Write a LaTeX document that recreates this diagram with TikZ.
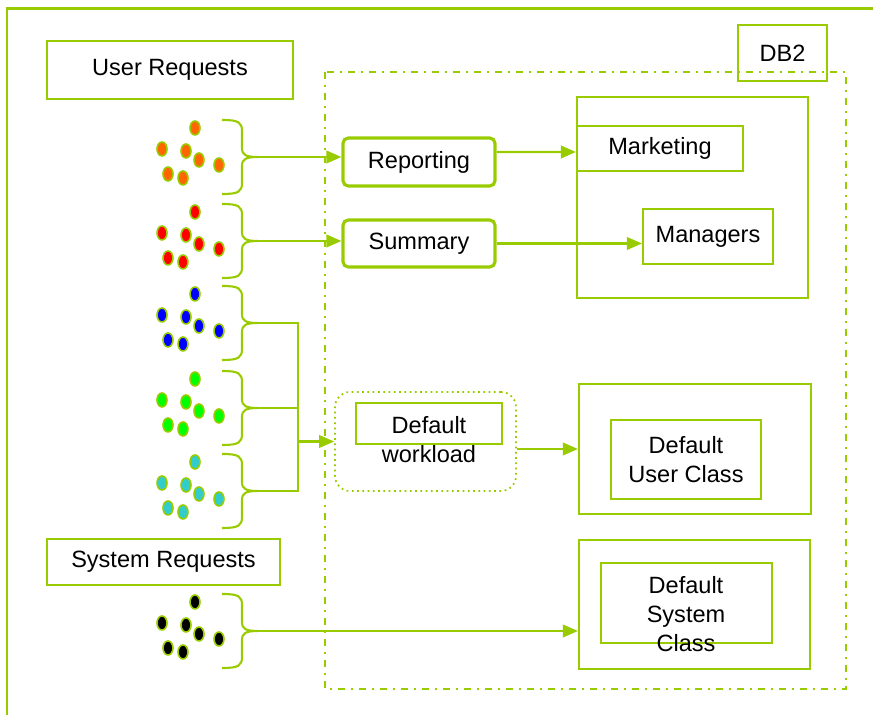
\documentclass[tikz,border=0pt]{standalone}
\usepackage{fontspec}
\setmainfont{Liberation Sans}
\usetikzlibrary{arrows.meta,positioning}

\definecolor{lime}{RGB}{153,204,0}
\definecolor{dotorange}{RGB}{255,102,0}
\definecolor{dotgreen}{RGB}{0,255,0}
\definecolor{dotcyan}{RGB}{51,204,204}

\tikzset{
  box/.style={draw=lime, line width=1.2pt, inner sep=0pt},
  rbox/.style={box, line width=1.8pt, rounded corners=3pt},
  link/.style={draw=lime, line width=1.2pt},
  tolink/.style={link, -{Triangle[length=0.3cm,width=0.25cm]}},
  brace/.style={draw=lime, line width=1.2pt},
  dot/.style={draw=lime, line width=0.9pt},
  lbl/.style={align=center, inner sep=0pt}
}

\begin{document}
\begin{tikzpicture}[x=0.02cm, y=-0.02cm, font=\fontsize{13.4}{16.5}\selectfont]

\useasboundingbox (0,0) rectangle (873,715);

% outer frame
\draw[lime, line width=1.7pt] (7,740) -- (7,9) -- (900,9);

% db2 frame
\draw[lime, line width=1.1pt, dash pattern=on 0.14cm off 0.12cm on 0.04cm off 0.12cm] (325,72) rectangle (846,689);
\node[box, minimum width=1.78cm, minimum height=1.12cm] (db2) at (782.5,53) {DB2};

% request boxes
\node[box, minimum width=4.92cm, minimum height=1.16cm] (usr) at (170,70) {User Requests};
\node[box, minimum width=4.66cm, minimum height=0.92cm] (sys) at (163.5,562) {System Requests};

% workloads
\node[rbox, minimum width=3.04cm, minimum height=0.96cm] (rep) at (419,162) {Reporting};
\node[rbox, minimum width=3.04cm, minimum height=0.94cm] (sum) at (419,243.5) {Summary};
\node[draw=lime, line width=1pt, dotted, rounded corners=0.3cm, minimum width=3.62cm, minimum height=1.98cm] (wl) at (425.5,441.5) {};
\node[box, minimum width=2.92cm, minimum height=0.82cm] (wlin) at (429,423.5) {};
\node[lbl] (wltxt) at (429,440) {Default\\workload};

% service classes
\node[box, minimum width=4.62cm, minimum height=4.02cm] (mktout) at (692.5,197.5) {};
\node[box, minimum width=3.32cm, minimum height=0.9cm] (mkt) at (660,148.5) {Marketing};
\node[box, minimum width=2.6cm, minimum height=1.1cm] (mgr) at (708,236.5) {Managers};

\node[box, minimum width=4.64cm, minimum height=2.6cm] (ucout) at (695,449) {};
\node[box, minimum width=3cm, minimum height=1.58cm, lbl] (uc) at (686,459.5) {Default\\User Class};

\node[box, minimum width=4.62cm, minimum height=2.58cm] (scout) at (694.5,604.5) {};
\node[box, minimum width=3.42cm, minimum height=1.6cm] (sc) at (686.5,603) {};
\node[lbl] (sctxt) at (686,614.5) {Default\\System\\Class};

% request groups
\foreach \i/\ty/\dotcol in {1/157/dotorange, 2/241/red, 3/323/blue, 4/408/dotgreen, 5/491/dotcyan, 6/631/black} {
  \coordinate (tip\i) at (258,\ty);
  \draw[brace] (222,\ty-37) .. controls (238,\ty-37) and (242,\ty-35) .. (242,\ty-26) -- (242,\ty-9)
    .. controls (242,\ty-2) and (246,\ty) .. (tip\i)
    .. controls (246,\ty) and (242,\ty+2) .. (242,\ty+9) -- (242,\ty+26)
    .. controls (242,\ty+35) and (238,\ty+37) .. (222,\ty+37);
  \foreach \dx/\dy in {195/-29, 162/-8, 186/-6, 199/3, 219/8, 168/17, 183/21}
    \draw[dot, fill=\dotcol] (\dx,\ty+\dy) ellipse [x radius=0.1cm, y radius=0.14cm];
}

% connectors
\coordinate (join) at (298,441.5);
\draw[tolink] (tip1) -- (tip1 -| rep.west);
\draw[tolink] (tip2) -- (tip2 -| sum.west);
\draw[link] (tip3) -- (tip3 -| join) -- (tip5 -| join) -- (tip5);
\draw[link] (tip4) -- (tip4 -| join);
\draw[tolink] (join) -- (wl.west);
\draw[tolink] (tip6) -- (tip6 -| scout.west);

\draw[tolink] (rep.east |- mkt.west) ++(0,3.5) -- ([yshift=-0.07cm]mkt.west);
\draw[tolink] (sum.east) -- (sum.east -| mgr.west);
\draw[tolink] (wl.east |- ucout.west) -- (ucout.west);

\end{tikzpicture}
\end{document}
